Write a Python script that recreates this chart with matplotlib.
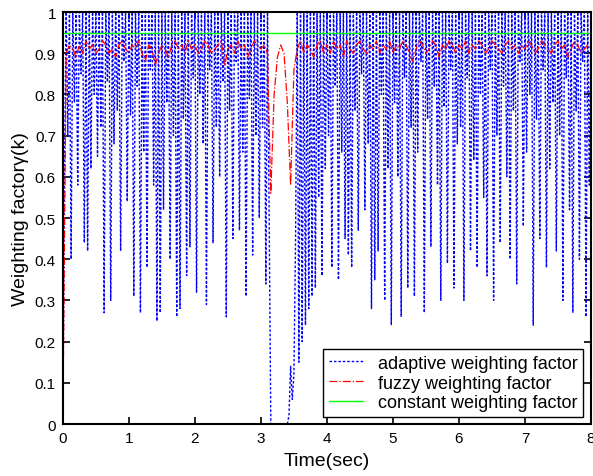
import numpy as np
import matplotlib as mpl
mpl.use('Agg')
import matplotlib.pyplot as plt

plt.rcParams['font.family'] = ['Liberation Sans', 'DejaVu Sans']

# time step of the sampled signals
dt_adaptive = 0.025
dt_fuzzy = 0.05

# adaptive weighting factor: peaks at t = 0.05k, troughs at t = 0.05k + 0.025
adaptive_peaks = [0.0] + [1.0]*62 + [0.0]*6 + [0.14, 0.12] + [1.0]*90

adaptive_troughs = [
    # 0 - 1 s
    0.62, 0.70, 0.40, 0.78, 0.58, 0.85, 0.44, 0.42, 0.62, 0.80,
    0.65, 0.72, 0.27, 0.83, 0.30, 0.68, 0.76, 0.42, 0.88, 0.54,
    # 1 - 2 s
    0.75, 0.31, 0.82, 0.27, 0.66, 0.38, 0.86, 0.58, 0.25, 0.27,
    0.52, 0.78, 0.40, 0.70, 0.26, 0.28, 0.74, 0.36, 0.43, 0.84,
    # 2 - 3 s
    0.32, 0.80, 0.68, 0.29, 0.86, 0.44, 0.72, 0.60, 0.83, 0.26,
    0.76, 0.45, 0.88, 0.47, 0.66, 0.31, 0.79, 0.41, 0.70, 0.50,
    # 3 - 4 s
    0.72, 0.34, 0.50, 0.00, 0.00, 0.00, 0.00, 0.00, 0.02, 0.06,
    0.45, 0.15, 0.20, 0.24, 0.28, 0.31, 0.33, 0.55, 0.36, 0.62,
    # 4 - 5 s
    0.70, 0.38, 0.82, 0.35, 0.66, 0.45, 0.41, 0.38, 0.76, 0.47,
    0.85, 0.52, 0.68, 0.28, 0.35, 0.42, 0.80, 0.30, 0.62, 0.24,
    # 5 - 6 s
    0.78, 0.60, 0.26, 0.84, 0.33, 0.72, 0.31, 0.66, 0.88, 0.27,
    0.74, 0.43, 0.82, 0.58, 0.30, 0.77, 0.39, 0.86, 0.33, 0.68,
    # 6 - 7 s
    0.72, 0.30, 0.84, 0.42, 0.64, 0.38, 0.80, 0.55, 0.36, 0.86,
    0.30, 0.70, 0.44, 0.82, 0.60, 0.40, 0.76, 0.34, 0.88, 0.48,
    # 7 - 8 s
    0.66, 0.80, 0.24, 0.74, 0.45, 0.86, 0.38, 0.62, 0.78, 0.42,
    0.70, 0.30, 0.84, 0.52, 0.27, 0.76, 0.40, 0.88, 0.26, 0.58,
]

# fuzzy weighting factor, one value every 0.05 s
fuzzy = [
    0.00, 0.90, 0.92, 0.91, 0.89, 0.92, 0.90, 0.93, 0.91, 0.92,
    0.90, 0.91, 0.93, 0.92, 0.90, 0.91, 0.89, 0.92, 0.93, 0.91,
    0.90, 0.92, 0.91, 0.93, 0.90, 0.88, 0.92, 0.91, 0.87, 0.90,
    0.92, 0.91, 0.89, 0.92, 0.93, 0.91, 0.92, 0.90, 0.93, 0.91,
    0.92, 0.90, 0.91, 0.93, 0.92, 0.90, 0.91, 0.92, 0.93, 0.87,
    0.91, 0.92, 0.90, 0.93, 0.91, 0.92, 0.89, 0.91, 0.93, 0.92,
    0.91, 0.92, 0.90, 0.56, 0.80, 0.89, 0.92, 0.90, 0.78, 0.58,
    0.86, 0.91, 0.93, 0.90, 0.92, 0.91, 0.89, 0.92, 0.93, 0.90,
    0.92, 0.90, 0.93, 0.91, 0.92, 0.89, 0.93, 0.91, 0.90, 0.92,
    0.93, 0.91, 0.90, 0.92, 0.91, 0.93, 0.90, 0.92, 0.91, 0.93,
    0.90, 0.92, 0.91, 0.93, 0.92, 0.90, 0.88, 0.91, 0.93, 0.92,
    0.90, 0.91, 0.93, 0.92, 0.89, 0.92, 0.91, 0.93, 0.92, 0.90,
    0.92, 0.91, 0.93, 0.90, 0.92, 0.91, 0.93, 0.92, 0.90, 0.91,
    0.93, 0.92, 0.91, 0.90, 0.92, 0.93, 0.91, 0.92, 0.90, 0.92,
    0.91, 0.93, 0.92, 0.90, 0.91, 0.93, 0.92, 0.91, 0.90, 0.92,
    0.93, 0.91, 0.92, 0.89, 0.91, 0.93, 0.92, 0.90, 0.91, 0.92,
    0.91,
]

constant_value = 0.95

labels = ["adaptive weighting factor", "fuzzy weighting factor", "constant weighting factor"]

# build the adaptive series: peak, trough, peak, ...
adaptive = np.empty(len(adaptive_peaks) + len(adaptive_troughs))
adaptive[0::2] = adaptive_peaks
adaptive[1::2] = adaptive_troughs
t_adaptive = np.arange(len(adaptive)) * dt_adaptive
t_fuzzy = np.arange(len(fuzzy)) * dt_fuzzy

fig = plt.figure(figsize=(5.93, 4.77), dpi=100)
ax = fig.add_axes([0.106, 0.109, 0.8906, 0.8637])

ax.plot(t_adaptive, adaptive, color='#0000ff', lw=1.0, linestyle=(0, (1.8, 1.4)), label=labels[0])
ax.plot(t_fuzzy, fuzzy, color='#ff0000', lw=0.9, linestyle='-.', label=labels[1])
ax.axhline(constant_value, color='#00ff00', lw=1.0, label=labels[2])

ax.set_xlim(0, 8)
ax.set_ylim(0, 1)
ax.set_xticks(np.arange(0, 9, 1))
ax.set_yticks(np.arange(0, 1.01, 0.1))
ax.set_yticklabels(["0", "0.1", "0.2", "0.3", "0.4", "0.5", "0.6", "0.7", "0.8", "0.9", "1"])
ax.tick_params(direction='in', top=True, right=True, length=5, width=1.2, labelsize=11, pad=5)

for s in ax.spines.values():
    s.set_linewidth(1.5)

ax.set_xlabel("Time(sec)", fontsize=14, labelpad=5)
ax.set_ylabel("Weighting factor\u03b3(k)", fontsize=14, labelpad=4)

leg = ax.legend(loc='lower right', bbox_to_anchor=(0.985, 0.017), fontsize=13,
                fancybox=False, framealpha=1.0, edgecolor='black',
                handlelength=1.9, handletextpad=0.8, borderpad=0.32,
                labelspacing=0.15, borderaxespad=0.0)
leg.get_frame().set_linewidth(1.0)

fig.savefig("out.png", dpi=100)
